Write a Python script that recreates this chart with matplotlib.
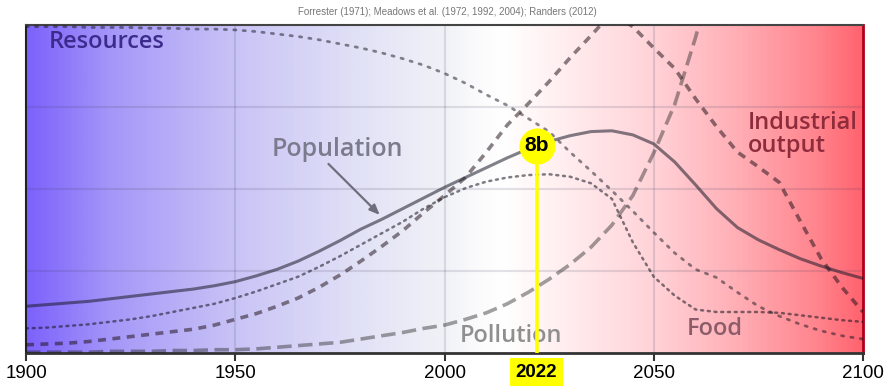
import numpy as np
import matplotlib
matplotlib.use("Agg")
import matplotlib.pyplot as plt
from matplotlib.colors import LinearSegmentedColormap

########  data  ########

years = list(range(1900, 2101, 5))

population = [0.57, 0.59, 0.61, 0.63, 0.66, 0.69, 0.72, 0.75, 0.78, 0.82,
              0.87, 0.94, 1.02, 1.12, 1.24, 1.37, 1.51, 1.63, 1.76, 1.89,
              2.02, 2.14, 2.26, 2.38, 2.49, 2.58, 2.65, 2.70, 2.71, 2.66,
              2.55, 2.33, 2.05, 1.76, 1.53, 1.38, 1.26, 1.15, 1.06, 0.98,
              0.91]

food = [0.30, 0.31, 0.33, 0.35, 0.38, 0.41, 0.45, 0.50, 0.55, 0.60,
        0.67, 0.75, 0.84, 0.93, 1.05, 1.18, 1.32, 1.46, 1.60, 1.76,
        1.90, 2.01, 2.09, 2.14, 2.17, 2.18, 2.15, 2.07, 1.88, 1.35,
        0.93, 0.70, 0.53, 0.50, 0.50, 0.50, 0.49, 0.46, 0.43, 0.40,
        0.38]

resources = [3.98, 3.98, 3.98, 3.97, 3.97, 3.97, 3.96, 3.96, 3.95, 3.95,
             3.94, 3.92, 3.89, 3.86, 3.82, 3.77, 3.72, 3.66, 3.59, 3.51,
             3.41, 3.29, 3.15, 3.02, 2.86, 2.70, 2.45, 2.22, 1.98, 1.73,
             1.47, 1.22, 1.02, 0.92, 0.74, 0.57, 0.45, 0.35, 0.27, 0.21,
             0.17]

industrial = [0.10, 0.11, 0.12, 0.14, 0.17, 0.20, 0.23, 0.26, 0.29, 0.34,
              0.41, 0.48, 0.57, 0.67, 0.80, 0.95, 1.12, 1.30, 1.49, 1.71,
              1.92, 2.14, 2.45, 2.78, 3.04, 3.31, 3.60, 3.87, 4.15, 3.98,
              3.72, 3.47, 3.10, 2.76, 2.45, 2.27, 2.08, 1.61, 1.15, 0.80,
              0.50]

# pollution leaves the chart after 2060
pollution = [0.01, 0.01, 0.01, 0.01, 0.02, 0.02, 0.02, 0.03, 0.03, 0.04,
             0.04, 0.05, 0.07, 0.09, 0.11, 0.13, 0.17, 0.21, 0.25, 0.30,
             0.34, 0.41, 0.49, 0.60, 0.74, 0.90, 1.08, 1.29, 1.56, 1.92,
             2.44, 3.03, 3.85, 4.80]

marker_year = 2022
marker_label = "8b"
tick_years = [1900, 1950, 2000, 2050, 2100]
source = "Forrester (1971); Meadows et al. (1972, 1992, 2004); Randers (2012)"

########  figure  ########

fig = plt.figure(figsize=(8.9, 3.87), dpi=100)
ax = fig.add_axes([26 / 890, 34 / 387, 837 / 890, 328 / 387])

# background gradient blue -> white -> red
bg = LinearSegmentedColormap.from_list("bg", [
    (0.00, "#7d62fb"), (0.10, "#a597f8"), (0.25, "#c9c4f6"),
    (0.40, "#e2e2f6"), (0.50, "#f1f2f7"), (0.54, "#fbfbfd"),
    (0.57, "#ffffff"), (0.65, "#ffecee"), (0.75, "#ffd3d8"),
    (0.85, "#ffafb6"), (0.95, "#ff838c"), (1.00, "#ff6470")])
ax.imshow(np.linspace(0, 1, 400).reshape(1, -1), cmap=bg, aspect="auto",
          extent=[1900, 2100, 0, 4], zorder=0)

for x in [1950, 2000, 2050]:
    ax.axvline(x, color="#404060", alpha=0.15, lw=1.5, zorder=1)
for y in [1, 2, 3]:
    ax.axhline(y, color="#404060", alpha=0.15, lw=1.5, zorder=1)

ax.plot(years, resources, color="#151520", alpha=0.5, lw=2,
        linestyle=(0, (0.8, 2.6)), dash_capstyle="round", zorder=3)
ax.plot(years, food, color="#151520", alpha=0.55, lw=1.8,
        linestyle=(0, (0.8, 1.9)), dash_capstyle="round", zorder=3)
ax.plot(years[:len(pollution)], pollution, color="#202020", alpha=0.42,
        lw=2.6, dashes=(4, 1.8), zorder=3)
ax.plot(years, industrial, color="#201018", alpha=0.52, lw=2.6,
        dashes=(2.2, 1.8), zorder=3)
ax.plot(years, population, color="#1a1a28", alpha=0.55, lw=2.2, zorder=4)

# labels
lab = dict(family="Open Sans", fontweight="semibold", fontsize=17)
ax.text(1905.5, 3.79, "Resources", color="#3c2a8c", va="center", **lab)
ax.text(1974.3, 2.48, "Population", color="#7b7b8e", ha="center",
        va="center", **dict(lab, fontsize=18))
ax.text(2072.5, 2.67, "Industrial\noutput", color="#8e2c3c", va="center",
        linespacing=0.95, **lab)
ax.text(2015.9, 0.21, "Pollution", color="#8f8f8f", ha="center",
        va="center", **lab)
ax.text(2064.6, 0.29, "Food", color="#8c5c6a", ha="center", va="center",
        **lab)
ax.annotate("", xy=(1985, np.interp(1985, years, population) + 0.03),
            xytext=(1971.8, 2.33),
            arrowprops=dict(arrowstyle="-|>,head_width=0.25,head_length=0.6",
                            color="#6e6e7c", lw=1.6), zorder=5)

# 2022 marker
pop_now = np.interp(marker_year, years, population)
ax.plot([marker_year, marker_year], [0, pop_now], color="#ffff00", lw=2.6,
        zorder=6)
ax.plot(marker_year, pop_now, "o", ms=25, color="#ffff00", mec="#ffff00",
        zorder=7)
ax.text(marker_year, pop_now, marker_label, fontsize=15, fontweight="bold",
        family="Liberation Sans", ha="center", va="center", zorder=8)

ax.set_xlim(1900, 2100)
ax.set_ylim(0, 4)
ax.set_yticks([])
ax.set_xticks(tick_years)
ax.set_xticklabels([str(t) for t in tick_years], family="Liberation Sans",
                   fontsize=13.5)
ax.tick_params(axis="x", length=6, width=1.5, pad=3, color="#333333")
ax.text(marker_year, -0.058, str(marker_year), transform=ax.get_xaxis_transform(),
        ha="center", va="center", fontsize=13.5, fontweight="bold",
        family="Liberation Sans",
        bbox=dict(boxstyle="square,pad=0.3", fc="#ffff00", ec="none"))

ax.spines["bottom"].set_linewidth(2)
ax.spines["bottom"].set_color("#333333")
ax.spines["left"].set_color("#222222")
ax.spines["left"].set_linewidth(1.5)
ax.spines["top"].set_color("#444444")
ax.spines["top"].set_linewidth(1.5)
ax.spines["right"].set_color("#b00018")
ax.spines["right"].set_linewidth(2)

fig.text(0.503, 0.969, source, ha="center", va="center", fontsize=7,
         color="#777777", family="Liberation Sans")

plt.savefig("out.png", dpi=100)
plt.close()
